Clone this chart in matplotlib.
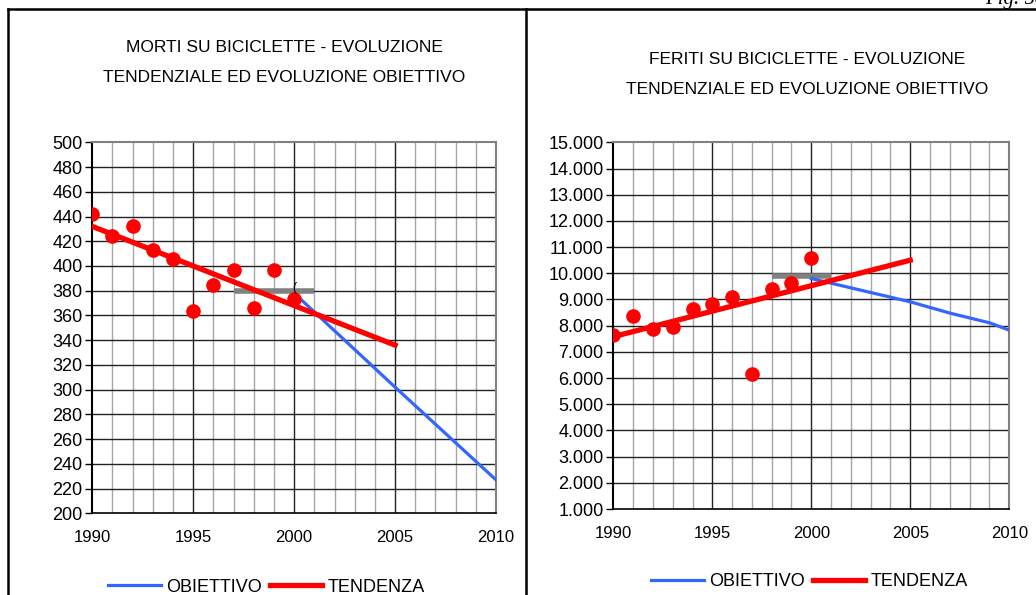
import matplotlib
matplotlib.use("Agg")
import matplotlib.pyplot as plt
from matplotlib.lines import Line2D

plt.rcParams['font.family'] = ['Liberation Sans', 'DejaVu Sans']

# MORTI (deaths)
morti_years = [1990, 1991, 1992, 1993, 1994, 1995, 1996, 1997, 1998, 1999, 2000]
morti_values = [442, 424, 432, 413, 406, 364, 385, 397, 366, 397, 373]
morti_trend_years = [1990, 2005]
morti_trend = [432, 336]
morti_obj_years = [2000, 2005, 2010]
morti_obj = [378, 302, 227]
morti_ref_years = [1997, 2001]
morti_ref = [380, 380]
morti_yticks = list(range(200, 501, 20))

# FERITI (injured)
feriti_years = [1990, 1991, 1992, 1993, 1994, 1995, 1996, 1997, 1998, 1999, 2000]
feriti_values = [7640, 8380, 7870, 7940, 8620, 8810, 9100, 6160, 9400, 9640, 10570]
feriti_trend_years = [1990, 2005]
feriti_trend = [7580, 10500]
feriti_obj_years = [2000, 2005, 2007, 2009, 2010]
feriti_obj = [9800, 8910, 8480, 8110, 7830]
feriti_ref_years = [1998, 2001]
feriti_ref = [9890, 9890]
feriti_yticks = list(range(1000, 15001, 1000))

xticks = [1990, 1995, 2000, 2005, 2010]

fig = plt.figure(figsize=(10.36, 5.95), dpi=100)


def style_axes(ax, yticks, ylabels):
    ax.set_xlim(1990, 2010)
    ax.set_ylim(yticks[0], yticks[-1])
    for yr in range(1991, 2010):
        major = yr % 5 == 0
        ax.axvline(yr, color='#222222' if major else '#a6a6a6', lw=1.0, zorder=1)
    for v in yticks[1:-1]:
        ax.axhline(v, color='#222222', lw=1.0, zorder=1)
    ax.set_xticks(xticks)
    ax.set_xticklabels([str(x) for x in xticks], fontsize=12)
    ax.set_yticks(yticks)
    ax.set_yticklabels(ylabels, fontsize=13)
    ax.tick_params(axis='x', length=0, pad=12)
    ax.tick_params(axis='y', length=5, width=1, pad=2)
    for s in ['top', 'right']:
        ax.spines[s].set_color('#808080')
        ax.spines[s].set_linewidth(1.5)
    ax.spines['left'].set_linewidth(1.5)
    ax.spines['bottom'].set_linewidth(1.2)


ax1 = fig.add_axes([0.0891, 0.1373, 0.3897, 0.6235])
style_axes(ax1, morti_yticks, [str(v) for v in morti_yticks])
ax1.plot(morti_ref_years, morti_ref, color='#808080', lw=4, solid_capstyle='butt', zorder=3)
ax1.plot(morti_obj_years, morti_obj, color='#3366ff', lw=2.3, zorder=4, label='OBIETTIVO')
ax1.plot(morti_trend_years, morti_trend, color='#ff0000', lw=3.8, zorder=5, label='TENDENZA')
ax1.plot(morti_years, morti_values, 'o', color='#ff0000', ms=9.5, zorder=6)
ax1.text(2000, 382, '(', fontsize=9, ha='center', va='center', zorder=7)
ax1.legend(loc='center', bbox_to_anchor=(266.5 / 1036, 1 - 587 / 595),
           bbox_transform=fig.transFigure, ncol=2, frameon=False, fontsize=13,
           handlelength=2.9, handletextpad=0.3, columnspacing=0.45, borderpad=0)

ax2 = fig.add_axes([0.592, 0.1445, 0.3822, 0.6163])
style_axes(ax2, feriti_yticks, [f"{v:,}".replace(',', '.') for v in feriti_yticks])
ax2.plot(feriti_ref_years, feriti_ref, color='#808080', lw=4, solid_capstyle='butt', zorder=3)
ax2.plot(feriti_obj_years, feriti_obj, color='#3366ff', lw=2.3, zorder=4, label='OBIETTIVO')
ax2.plot(feriti_trend_years, feriti_trend, color='#ff0000', lw=3.8, zorder=5, label='TENDENZA')
ax2.plot(feriti_years, feriti_values, 'o', color='#ff0000', ms=9.5, zorder=6)
ax2.legend(loc='center', bbox_to_anchor=(809.5 / 1036, 1 - 582 / 595),
           bbox_transform=fig.transFigure, ncol=2, frameon=False, fontsize=13,
           handlelength=2.9, handletextpad=0.3, columnspacing=0.45, borderpad=0)

# titles
fig.text(284 / 1036, 1 - 48 / 595, 'MORTI SU BICICLETTE - EVOLUZIONE', ha='center', va='center', fontsize=12.5)
fig.text(284 / 1036, 1 - 77 / 595, 'TENDENZIALE ED EVOLUZIONE OBIETTIVO', ha='center', va='center', fontsize=12.5)
fig.text(807 / 1036, 1 - 60 / 595, 'FERITI SU BICICLETTE - EVOLUZIONE', ha='center', va='center', fontsize=12.5)
fig.text(807 / 1036, 1 - 89 / 595, 'TENDENZIALE ED EVOLUZIONE OBIETTIVO', ha='center', va='center', fontsize=12.5)

# page frame
fig.add_artist(Line2D([8 / 1036, 1], [1 - 9 / 595, 1 - 9 / 595], color='black', lw=1.8, transform=fig.transFigure))
fig.add_artist(Line2D([8 / 1036, 8 / 1036], [0, 1 - 9 / 595], color='black', lw=1.8, transform=fig.transFigure))
fig.add_artist(Line2D([526 / 1036, 526 / 1036], [0, 1 - 9 / 595], color='black', lw=1.8, transform=fig.transFigure))
# page label, cut by the top edge as in the original scan
fig.text(985 / 1036, 1 - 4 / 595, 'Fig. 58', ha='left', va='baseline', fontsize=15,
         family='Liberation Serif', style='italic')

fig.savefig('out.png', dpi=100)
